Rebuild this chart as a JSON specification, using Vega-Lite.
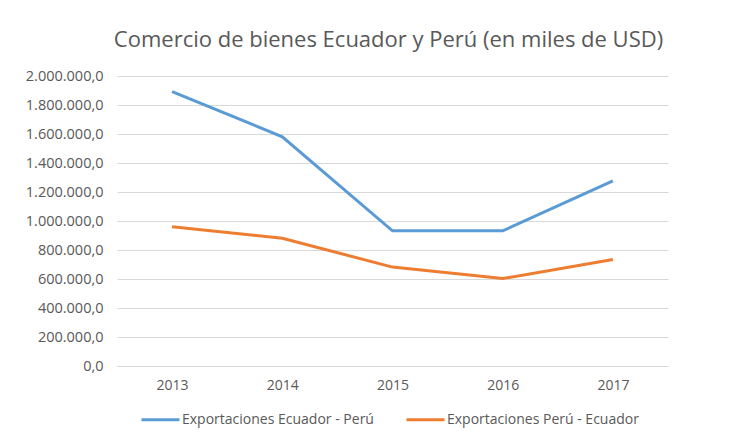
{
  "$schema": "https://vega.github.io/schema/vega-lite/v6.json",
  "width": 551,
  "height": 290,
  "autosize": {"type": "none"},
  "padding": {"left": 117, "top": 76, "right": 83, "bottom": 73},
  "background": "white",
  "title": {
    "text": "Comercio de bienes Ecuador y Perú (en miles de USD)",
    "font": "Open Sans",
    "fontSize": 22,
    "fontWeight": "normal",
    "color": "#595959",
    "anchor": "middle",
    "offset": 16,
    "dx": -4
  },
  "config": {
    "locale": {"number": {"decimal": ",", "thousands": ".", "grouping": [3], "currency": ["$", ""]}},
    "view": {"stroke": null},
    "font": "Open Sans"
  },
  "data": {
    "values": [
      {"anio": "2013", "serie": "Exportaciones Ecuador - Perú", "valor": 1893000},
      {"anio": "2014", "serie": "Exportaciones Ecuador - Perú", "valor": 1581000},
      {"anio": "2015", "serie": "Exportaciones Ecuador - Perú", "valor": 932000},
      {"anio": "2016", "serie": "Exportaciones Ecuador - Perú", "valor": 932000},
      {"anio": "2017", "serie": "Exportaciones Ecuador - Perú", "valor": 1277000},
      {"anio": "2013", "serie": "Exportaciones Perú - Ecuador", "valor": 960000},
      {"anio": "2014", "serie": "Exportaciones Perú - Ecuador", "valor": 881000},
      {"anio": "2015", "serie": "Exportaciones Perú - Ecuador", "valor": 682000},
      {"anio": "2016", "serie": "Exportaciones Perú - Ecuador", "valor": 603000},
      {"anio": "2017", "serie": "Exportaciones Perú - Ecuador", "valor": 734000}
    ]
  },
  "mark": {"type": "line", "strokeWidth": 3},
  "encoding": {
    "x": {
      "field": "anio",
      "type": "ordinal",
      "scale": {"type": "point", "padding": 0.5},
      "axis": {
        "title": null,
        "labelAngle": 0,
        "labelFontSize": 14,
        "labelColor": "#595959",
        "labelPadding": 12,
        "ticks": false,
        "domainColor": "#D9D9D9",
        "domainWidth": 1,
        "grid": false
      }
    },
    "y": {
      "field": "valor",
      "type": "quantitative",
      "scale": {"domain": [0, 2000000]},
      "axis": {
        "title": null,
        "values": [0, 200000, 400000, 600000, 800000, 1000000, 1200000, 1400000, 1600000, 1800000, 2000000],
        "format": ",.1f",
        "labelFontSize": 14.5,
        "labelColor": "#595959",
        "labelPadding": 14,
        "ticks": false,
        "domain": false,
        "gridColor": "#D9D9D9",
        "gridWidth": 1
      }
    },
    "color": {
      "field": "serie",
      "type": "nominal",
      "scale": {"range": ["#5B9BD5", "#ED7D31"]},
      "legend": {
        "title": null,
        "orient": "none",
        "legendX": 23,
        "legendY": 323,
        "direction": "horizontal",
        "symbolType": "stroke",
        "symbolSize": 1444,
        "symbolStrokeWidth": 3,
        "labelOffset": 1,
        "labelFontSize": 14,
        "labelColor": "#595959",
        "columnPadding": 26,
        "labelLimit": 300
      }
    }
  }
}
